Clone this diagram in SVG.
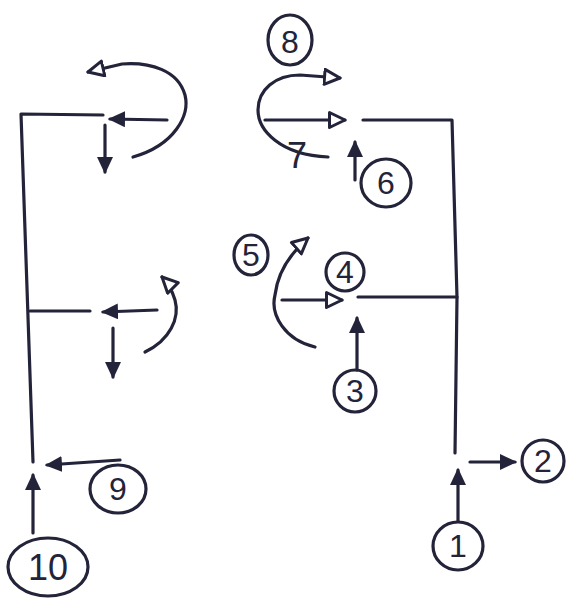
<svg xmlns="http://www.w3.org/2000/svg" width="570" height="610" viewBox="0 0 570 610">
<style>
.ln{fill:none;stroke:#23233a;stroke-width:3.2;stroke-linecap:round;stroke-linejoin:round}
.c{fill:none;stroke:#23233a;stroke-width:3.2}
.t{font-family:"Liberation Sans",Arial,sans-serif;font-size:32px;fill:#23233a;text-anchor:middle;dominant-baseline:central}
</style>
<defs>
<marker id="f" markerUnits="userSpaceOnUse" markerWidth="20" markerHeight="18" refX="15" refY="8" orient="auto">
<path d="M0,0 L17,8 L0,16 z" fill="#23233a"/>
</marker>
<marker id="o" markerUnits="userSpaceOnUse" markerWidth="22" markerHeight="20" refX="17" refY="9" orient="auto">
<path d="M1.5,1.5 L17,9 L1.5,16.5 z" fill="#fff" stroke="#23233a" stroke-width="3" stroke-linejoin="round"/>
</marker>
</defs>
<rect width="570" height="610" fill="#fff"/>
<g id="connectors">
<path class="ln" d="M363,120 L452,120 L457,297 L455,453"/>
<path class="ln" d="M358,297 L457,297"/>
<path class="ln" d="M103,115 L21,114 L33,462"/>
<path class="ln" d="M30,311 L90,311"/>
<path class="ln" marker-end="url(#f)" d="M458,521 L458,470"/>
<path class="ln" marker-end="url(#f)" d="M470,462 L515,462"/>
<path class="ln" marker-end="url(#f)" d="M357,370 L357,318"/>
<path class="ln" marker-end="url(#o)" d="M282,300 L342,300"/>
<path class="ln" marker-end="url(#o)" d="M315,347 C285,340 270,315 275,295 C278,270 292,252 308,238"/>
<path class="ln" marker-end="url(#f)" d="M355,180 L355,142"/>
<path class="ln" marker-end="url(#o)" d="M265,120 L345,120"/>
<path class="ln" marker-end="url(#o)" d="M328,157 C280,155 258,130 258,110 C258,90 275,75 300,75 L340,78"/>
<path class="ln" marker-end="url(#f)" d="M167,120 L110,119"/>
<path class="ln" marker-end="url(#f)" d="M105,125 L105,172"/>
<path class="ln" marker-end="url(#o)" d="M133,157 C175,145 190,115 185,95 C178,70 150,62 122,64 L88,72"/>
<path class="ln" marker-end="url(#f)" d="M157,310 L103,312"/>
<path class="ln" marker-end="url(#f)" d="M113,328 L113,377"/>
<path class="ln" marker-end="url(#o)" d="M145,352 C170,340 180,318 175,300 C172,290 168,283 162,277"/>
<path class="ln" marker-end="url(#f)" d="M120,460 L47,465"/>
<path class="ln" marker-end="url(#f)" d="M33,533 L33,475"/>
</g>
<g id="n1"><ellipse class="c" cx="458" cy="546" rx="25" ry="24"/><text class="t" x="458" y="546">1</text></g>
<g id="n2"><circle class="c" cx="543" cy="461" r="21"/><text class="t" x="543" y="461">2</text></g>
<g id="n3"><circle class="c" cx="355" cy="391" r="21"/><text class="t" x="355" y="391">3</text></g>
<g id="n4"><circle class="c" cx="345" cy="272" r="19"/><text class="t" x="345" y="272">4</text></g>
<g id="n5"><ellipse class="c" cx="251" cy="255" rx="17" ry="20"/><text class="t" x="251" y="255">5</text></g>
<g id="n6"><ellipse class="c" cx="386" cy="183" rx="25" ry="24"/><text class="t" x="386" y="183">6</text></g>
<g id="n7"><text class="t" x="297" y="155" style="font-size:36px">7</text></g>
<g id="n8"><ellipse class="c" cx="290" cy="40" rx="22" ry="25"/><text class="t" x="290" y="42">8</text></g>
<g id="n9"><ellipse class="c" cx="118" cy="489" rx="28" ry="24"/><text class="t" x="118" y="489">9</text></g>
<g id="n10"><ellipse class="c" cx="48" cy="567" rx="40" ry="29"/><text class="t" x="48" y="567" style="font-size:36px">10</text></g>
</svg>
